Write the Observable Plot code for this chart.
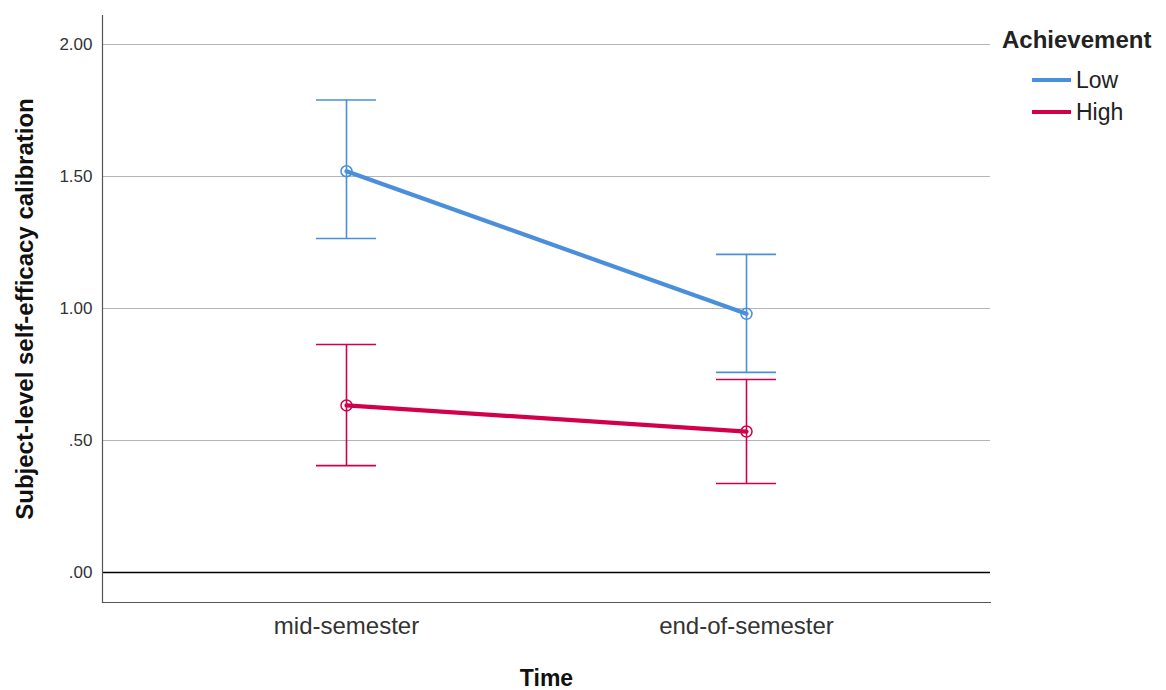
<!DOCTYPE html>
<html><head><meta charset="utf-8">
<script src="https://cdn.jsdelivr.net/npm/d3@7"></script>
<script src="https://cdn.jsdelivr.net/npm/@observablehq/plot@0.6"></script>
<style>
body{margin:0;background:#fff;font-family:"Liberation Sans",Arial,sans-serif;}
#wrap{position:relative;width:1166px;height:690px;overflow:hidden;}
#legend{position:absolute;left:1002px;top:26px;color:#222;}
#legend .title{font-weight:bold;font-size:24px;line-height:28px;}
#legend .item{position:absolute;left:30px;height:30px;display:flex;align-items:center;font-size:23px;white-space:nowrap;}
#legend .item svg{margin-right:5px;}
</style></head><body><div id="wrap"><div id="legend"></div></div>
<script>
const times = ["mid-semester", "end-of-semester"];
const groups = ["Low", "High"];
const colors = ["#4a8fdb", "#d2004b"];
const lowMean = [1.52, 0.98];
const lowLower = [1.265, 0.758];
const lowUpper = [1.79, 1.205];
const highMean = [0.633, 0.534];
const highLower = [0.405, 0.337];
const highUpper = [0.864, 0.731];
const yTicks = [0, 0.5, 1, 1.5, 2];
const gridValues = [0.5, 1, 1.5, 2];
const yTitle = "Subject-level self-efficacy calibration";
const xTitle = "Time";
const legendTitle = "Achievement";

const rows = [];
times.forEach((t, i) => {
  rows.push({time: t, group: "Low", mean: lowMean[i], lo: lowLower[i], hi: lowUpper[i]});
  rows.push({time: t, group: "High", mean: highMean[i], lo: highLower[i], hi: highUpper[i]});
});

const fmt = d => d.toFixed(2).replace(/^0/, "");

const chart = Plot.plot({
  width: 1166,
  height: 690,
  marginLeft: 102,
  marginRight: 176,
  marginTop: 15,
  marginBottom: 88,
  style: {fontFamily: "Liberation Sans, Arial, sans-serif", background: "white", color: "#222"},
  x: {type: "band", domain: times, paddingInner: 0.85, paddingOuter: 0.5325},
  y: {domain: [-0.1136, 2.11]},
  color: {domain: groups, range: colors},
  marks: [
    Plot.ruleY(gridValues, {stroke: "#b4b4b4", strokeWidth: 1}),
    Plot.ruleY([0], {stroke: "#000", strokeWidth: 1.4}),
    Plot.frame({anchor: "left", stroke: "#555", strokeWidth: 1.2}),
    Plot.frame({anchor: "bottom", stroke: "#555", strokeWidth: 1.2}),
    Plot.ruleX(rows, {x: "time", y1: "lo", y2: "hi", stroke: "group", strokeWidth: 1.6}),
    Plot.tickY(rows, {x: "time", y: "lo", stroke: "group", strokeWidth: 1.6}),
    Plot.tickY(rows, {x: "time", y: "hi", stroke: "group", strokeWidth: 1.6}),
    Plot.lineY(rows, {x: "time", y: "mean", z: "group", stroke: "group", strokeWidth: 4.2}),
    Plot.dot(rows, {x: "time", y: "mean", stroke: "group", r: 5.5, strokeWidth: 1.5, fill: "none"}),
    Plot.axisY({ticks: yTicks, tickSize: 0, tickPadding: 10, tickFormat: fmt, label: null, fontSize: 17, fill: "#333"}),
    Plot.axisX({tickSize: 0, tickPadding: 14, label: null, fontSize: 24, fill: "#333"}),
    Plot.text([yTitle], {text: d => d, frameAnchor: "left", dx: -77, rotate: -90, fontSize: 24, fontWeight: "bold", fill: "#111", textAnchor: "middle", lineAnchor: "middle"}),
    Plot.text([xTitle], {text: d => d, frameAnchor: "bottom", dy: 76, fontSize: 23, fontWeight: "bold", fill: "#111", textAnchor: "middle", lineAnchor: "middle"})
  ]
});
const wrap = document.getElementById("wrap");
wrap.insertBefore(chart, wrap.firstChild);

const legend = d3.select("#legend");
legend.append("div").attr("class", "title").text(legendTitle);
groups.forEach((g, i) => {
  const item = legend.append("div").attr("class", "item").style("top", (39 + i * 32) + "px");
  const s = item.append("svg").attr("width", 39).attr("height", 10);
  s.append("line").attr("x1", 0).attr("x2", 39).attr("y1", 5).attr("y2", 5)
    .attr("stroke", colors[i]).attr("stroke-width", 4);
  item.append("span").text(g);
});
</script>
</body></html>
